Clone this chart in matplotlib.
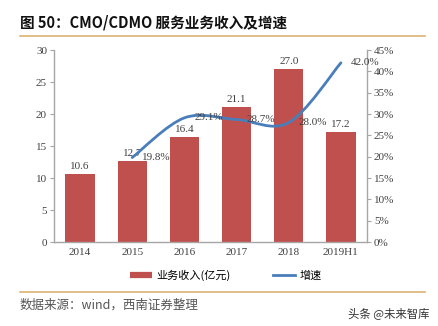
import numpy as np
import matplotlib
matplotlib.use('Agg')
from matplotlib import pyplot as plt
from matplotlib.path import Path
from matplotlib.patches import PathPatch
from matplotlib.lines import Line2D

years = ['2014', '2015', '2016', '2017', '2018', '2019H1']
revenue = [10.6, 12.7, 16.4, 21.1, 27.0, 17.2]
growth_years = ['2015', '2016', '2017', '2018', '2019H1']
growth = [19.8, 29.1, 28.7, 28.0, 42.0]

bar_color = '#C0504D'
line_color = '#4A7EBB'
rule_color = '#DDB274'
axis_color = '#A6A6A6'
text_color = '#404040'
serif = 'Liberation Serif'
cjk = ['Noto Sans CJK SC', 'DejaVu Sans']

fig = plt.figure(figsize=(4.38, 3.26), dpi=100)
ax = fig.add_axes([54/438, 1-242/326, (367-54)/438, 192/326])
ax2 = ax.twinx()

x = np.arange(len(years))
bars = ax.bar(x, revenue, width=0.56, color=bar_color, zorder=2)
for xi, v in zip(x, revenue):
    ax.annotate('%.1f' % v, (xi, v), xytext=(0, 2), textcoords='offset points',
                ha='center', va='bottom', fontsize=8, family=serif, color=text_color)

ax.set_xlim(-0.5, len(years)-0.5)
ax.set_ylim(0, 30)
ax.set_yticks(range(0, 31, 5))
ax.set_xticks(x)
ax.set_xticklabels(years)
ax2.set_ylim(0, 45)
ax2.set_yticks(range(0, 46, 5))
ax2.set_yticklabels(['%d%%' % t for t in range(0, 46, 5)])

for a in (ax, ax2):
    for s in a.spines.values():
        s.set_visible(False)
    for lab in a.get_yticklabels() + a.get_xticklabels():
        lab.set_family(serif)
        lab.set_fontsize(8)
        lab.set_color(text_color)
ax.spines['left'].set_visible(True)
ax.spines['bottom'].set_visible(True)
ax2.spines['right'].set_visible(True)
for s in (ax.spines['left'], ax.spines['bottom'], ax2.spines['right']):
    s.set_color(axis_color)
    s.set_linewidth(1.0)
ax.tick_params(axis='y', length=3, color=axis_color, pad=2)
ax.tick_params(axis='x', length=0, pad=4)
ax2.tick_params(axis='y', length=3, color=axis_color, pad=2)

# smoothed growth line (catmull-rom style bezier through the points)
gx = np.array([years.index(y) for y in growth_years], dtype=float)
gy = np.array(growth)
pts = np.column_stack([gx, gy])
n = len(pts)
verts = [pts[0]]
codes = [Path.MOVETO]
for i in range(n-1):
    p0 = pts[i-1] if i > 0 else pts[i]
    p1, p2 = pts[i], pts[i+1]
    p3 = pts[i+2] if i+2 < n else pts[i+1]
    verts += [p1 + (p2-p0)/6, p2 - (p3-p1)/6, p2]
    codes += [Path.CURVE4]*3
ax2.add_patch(PathPatch(Path(verts, codes), fill=False, edgecolor=line_color,
                        lw=2, capstyle='round', zorder=3))
for xi, v in zip(gx, gy):
    ax2.annotate('%.1f%%' % v, (xi, v), xytext=(7, 0), textcoords='offset points',
                 ha='left', va='center', fontsize=8, family=serif, color=text_color)

# legend
handles = [Line2D([], [], color=bar_color, lw=4.5, solid_capstyle='butt'),
           Line2D([], [], color=line_color, lw=2)]
fig.legend(handles, ['业务收入(亿元)', '增速'], loc='center',
           bbox_to_anchor=(0.515, 1-275/326), ncol=2, frameon=False,
           prop={'family': cjk, 'size': 8}, handlelength=2.0, handletextpad=0.4,
           columnspacing=3.8)

# title, rules, source
fig.text(20/438, 1-23/326, '图 50：CMO/CDMO 服务业务收入及增速', family=cjk,
         fontsize=10.5, fontweight='bold', va='center', ha='left', color='#111111')
fig.add_artist(Line2D([20/438, 425/438], [1-36/326, 1-36/326], color=rule_color, lw=1.2))
fig.add_artist(Line2D([20/438, 425/438], [1-292/326, 1-292/326], color=rule_color, lw=1.2))
fig.text(20/438, 1-305/326, '数据来源：wind，西南证券整理', family=cjk, fontsize=9,
         style='italic', color='#555555', va='center', ha='left')
fig.text(430/438, 1-313/326, '头条 @未来智库', family=cjk, fontsize=8.2,
         color='#333333', va='center', ha='right')

plt.savefig('out.png', dpi=100)
